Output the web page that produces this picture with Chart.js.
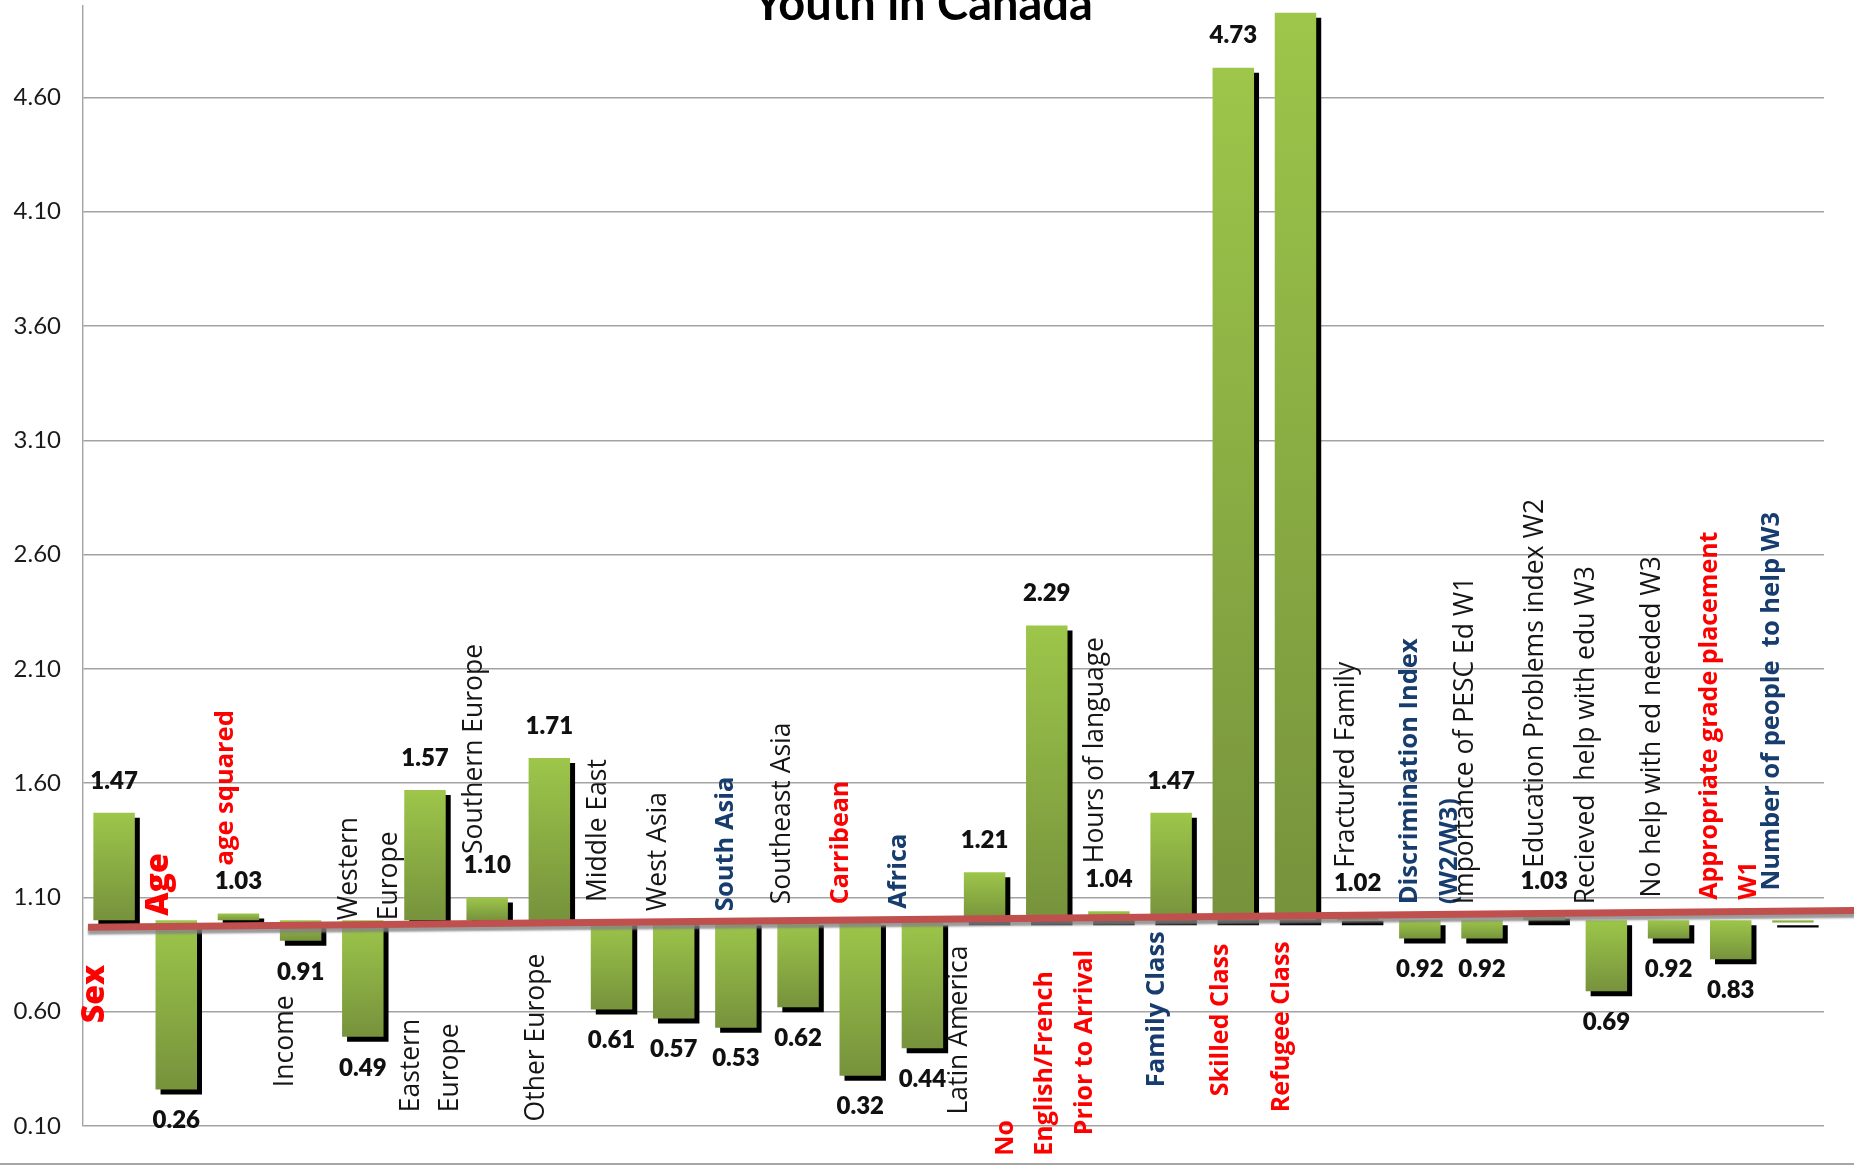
<!DOCTYPE html>
<html>
<head>
<meta charset="utf-8">
<script src="https://cdn.jsdelivr.net/npm/chart.js@4.4.1/dist/chart.umd.min.js"></script>
<style>
  html, body { margin: 0; padding: 0; background: #fff; }
  #wrap { position: relative; width: 1854px; height: 1167px; overflow: hidden; }
  #frame-bottom { position: absolute; left: 0; right: 0; top: 1163px; height: 2px; background: #a6a6a6; }
</style>
</head>
<body>
<div id="wrap">
  <canvas id="chart" width="1854" height="1167"></canvas>
  <div id="frame-bottom"></div>
</div>
<script>
// Odds ratios by predictor, bars hang from 1.0

const categoryLines = [
  ['Sex'], ['Age'], ['age squared'], ['Income'], ['Western', 'Europe'], ['Eastern', 'Europe'],
  ['Southern Europe'], ['Other Europe'], ['Middle East'], ['West Asia'], ['South Asia'],
  ['Southeast Asia'], ['Carribean'], ['Africa'], ['Latin America'],
  ['No', 'English/French', 'Prior to Arrival'], ['Hours of language'], ['Family Class'],
  ['Skilled Class'], ['Refugee Class'], ['Fractured Family'], ['Discrimination Index', '(W2/W3)'],
  ['Importance of PESC Ed W1'], ['Education Problems index W2'], ['Recieved  help with edu W3'],
  ['No help with ed needed W3'], ['Appropriate grade placement', 'W1'], ['Number of people  to help W3'],
];
const categories = categoryLines.map(l => l.join(' '));

const oddsRatios = [
  1.47, 0.26, 1.03, 0.91, 0.49, 1.57, 1.10, 1.71, 0.61, 0.57, 0.53, 0.62, 0.32, 0.44,
  1.21, 2.29, 1.04, 1.47, 4.73, 4.97, 1.02, 0.92, 0.92, 1.03, 0.69, 0.92, 0.83, 0.99,
];
const hiddenValueLabels = [27];   // no number printed for the last bar

const yTickValues = [0.10, 0.60, 1.10, 1.60, 2.10, 2.60, 3.10, 3.60, 4.10, 4.60];
const baseValue = 1;

// the sloping red reference line (x in category units)
const refLineX = [-0.42, 28.0];
const refLineY = [0.97, 1.043];

// ── label styling / placement ─────────────────
const STYLES = {
  plain: { weight: 500, size: 26.5, color: '#161616' },
  red:   { weight: 700, size: 25,   color: '#ff0000' },
  big:   { weight: 800, size: 32,   color: '#ff0000' },
  sq:    { weight: 700, size: 25.5, color: '#ff0000' },
  navy:  { weight: 700, size: 25.5, color: '#173c6e' },
};
const labelStyle = ['big','big','sq','plain','plain','plain','plain','plain','plain','plain','navy',
  'plain','red','navy','plain','red','plain','navy','red','red','plain','navy','plain','plain','plain',
  'plain','red','navy'];
const labelDx = [-19,-17,-13,-15,-13,-14,-13,-13,-13,-15,-10,-16,-19,-24,-25,-41,-13,-14,-12,-14,
  -11,-10,-17,-9,-20,-16,-21,-21];
const labelStart = [0.55,1.02,1.24,0.27,1.00,0.16,1.29,0.12,1.08,1.04,1.04,1.07,1.07,1.05,0.15,
  [-0.03,-0.03,0.06],1.25,0.27,0.23,0.16,1.23,1.07,1.07,1.23,1.07,1.10,1.09,1.13];
const LINE_STEP = 39.5;

const overlay = {
  id: 'overlay',
  beforeDatasetDraw(chart, args) {
    const ctx = chart.ctx;
    ctx.save();
    if (args.meta.type === 'bar') {
      ctx.shadowColor = '#000';
      ctx.shadowOffsetX = 5;
      ctx.shadowOffsetY = 5;
      ctx.shadowBlur = 0;
    } else {
      ctx.shadowColor = 'rgba(130,130,130,0.8)';
      ctx.shadowOffsetX = 0;
      ctx.shadowOffsetY = 4;
      ctx.shadowBlur = 2;
    }
  },
  afterDatasetDraw(chart) {
    chart.ctx.restore();
  },
  afterDraw(chart) {
    const ctx = chart.ctx;
    const y = chart.scales.y;
    const meta = chart.getDatasetMeta(1);

    // title (mostly cut off by the crop)
    ctx.save();
    ctx.fillStyle = '#000';
    ctx.font = '700 47px Lato';
    ctx.textAlign = 'center';
    ctx.textBaseline = 'alphabetic';
    ctx.fillText('Youth in Canada', 923, 20);
    ctx.restore();

    // value labels
    ctx.save();
    ctx.fillStyle = '#111';
    ctx.font = '800 24px Lato';
    ctx.textAlign = 'center';
    ctx.textBaseline = 'middle';
    oddsRatios.forEach((v, i) => {
      if (hiddenValueLabels.includes(i)) return;
      const bar = meta.data[i];
      const end = y.getPixelForValue(v);
      const ty = v >= baseValue ? end - 32 : end + 31;
      ctx.fillText(v.toFixed(2), bar.x, ty);
    });
    ctx.restore();

    // rotated category labels
    categoryLines.forEach((lines, i) => {
      const st = STYLES[labelStyle[i]];
      const x0 = meta.data[i].x + labelDx[i];
      lines.forEach((txt, j) => {
        const s = Array.isArray(labelStart[i]) ? labelStart[i][j] : labelStart[i];
        ctx.save();
        ctx.translate(x0 + j * LINE_STEP, y.getPixelForValue(s));
        ctx.rotate(-Math.PI / 2);
        ctx.font = `${st.weight} ${st.size}px "Open Sans"`;
        ctx.fillStyle = st.color;
        ctx.textAlign = 'left';
        ctx.textBaseline = 'middle';
        ctx.fillText(txt, 0, 0);
        ctx.restore();
      });
    });
  },
};

function barGradient(c) {
  const chart = c.chart;
  if (!chart.chartArea || c.type !== 'data') return '#8cb543';
  const ys = chart.scales.y;
  const v = c.raw.y;
  const top = ys.getPixelForValue(Math.max(v, baseValue));
  const bot = ys.getPixelForValue(Math.min(v, baseValue));
  const g = chart.ctx.createLinearGradient(0, top, 0, bot + 0.5);
  g.addColorStop(0, '#9dc64a');
  g.addColorStop(1, '#76923c');
  return g;
}

const ctx = document.getElementById('chart').getContext('2d');
new Chart(ctx, {
  type: 'bar',
  data: {
    labels: categories,
    datasets: [
      {
        type: 'line',
        data: refLineX.map((x, i) => ({ x, y: refLineY[i] })),
        borderColor: '#c0504d',
        borderWidth: 7,
        pointRadius: 0,
        clip: false,
        order: 0,
      },
      {
        data: oddsRatios.map((v, i) => ({ x: i, y: v })),
        base: baseValue,
        backgroundColor: barGradient,
        borderWidth: 0,
        grouped: false,
        barPercentage: 0.667,
        categoryPercentage: 1.0,
        order: 1,
      },
    ],
  },
  options: {
    responsive: false,
    animation: false,
    devicePixelRatio: 1,
    layout: { padding: { top: 6, bottom: 41, left: 0, right: 30 } },
    plugins: {
      legend: { display: false },
      tooltip: { enabled: false },
      title: { display: false },
    },
    scales: {
      x: {
        type: 'linear',
        display: false,
        offset: false,
        min: -0.5,
        max: 27.5,
        afterBuildTicks: s => { s.ticks = categories.map((_, i) => ({ value: i })); },
      },
      y: {
        min: 0.1,
        max: 5.0,
        afterFit: s => { s.width = 83; s.paddingTop = 0; s.paddingBottom = 0; },
        afterBuildTicks: s => { s.ticks = yTickValues.map(v => ({ value: v })); },
        ticks: {
          color: '#1a1a1a',
          font: { family: 'Lato', size: 24 },
          padding: 22,
          callback: v => Number(v).toFixed(2),
        },
        grid: { color: '#a3a3a3', lineWidth: 1.4, drawTicks: false },
        border: { display: true, color: '#a3a3a3', width: 1.4 },
      },
    },
  },
  plugins: [overlay],
});
</script>
</body>
</html>
